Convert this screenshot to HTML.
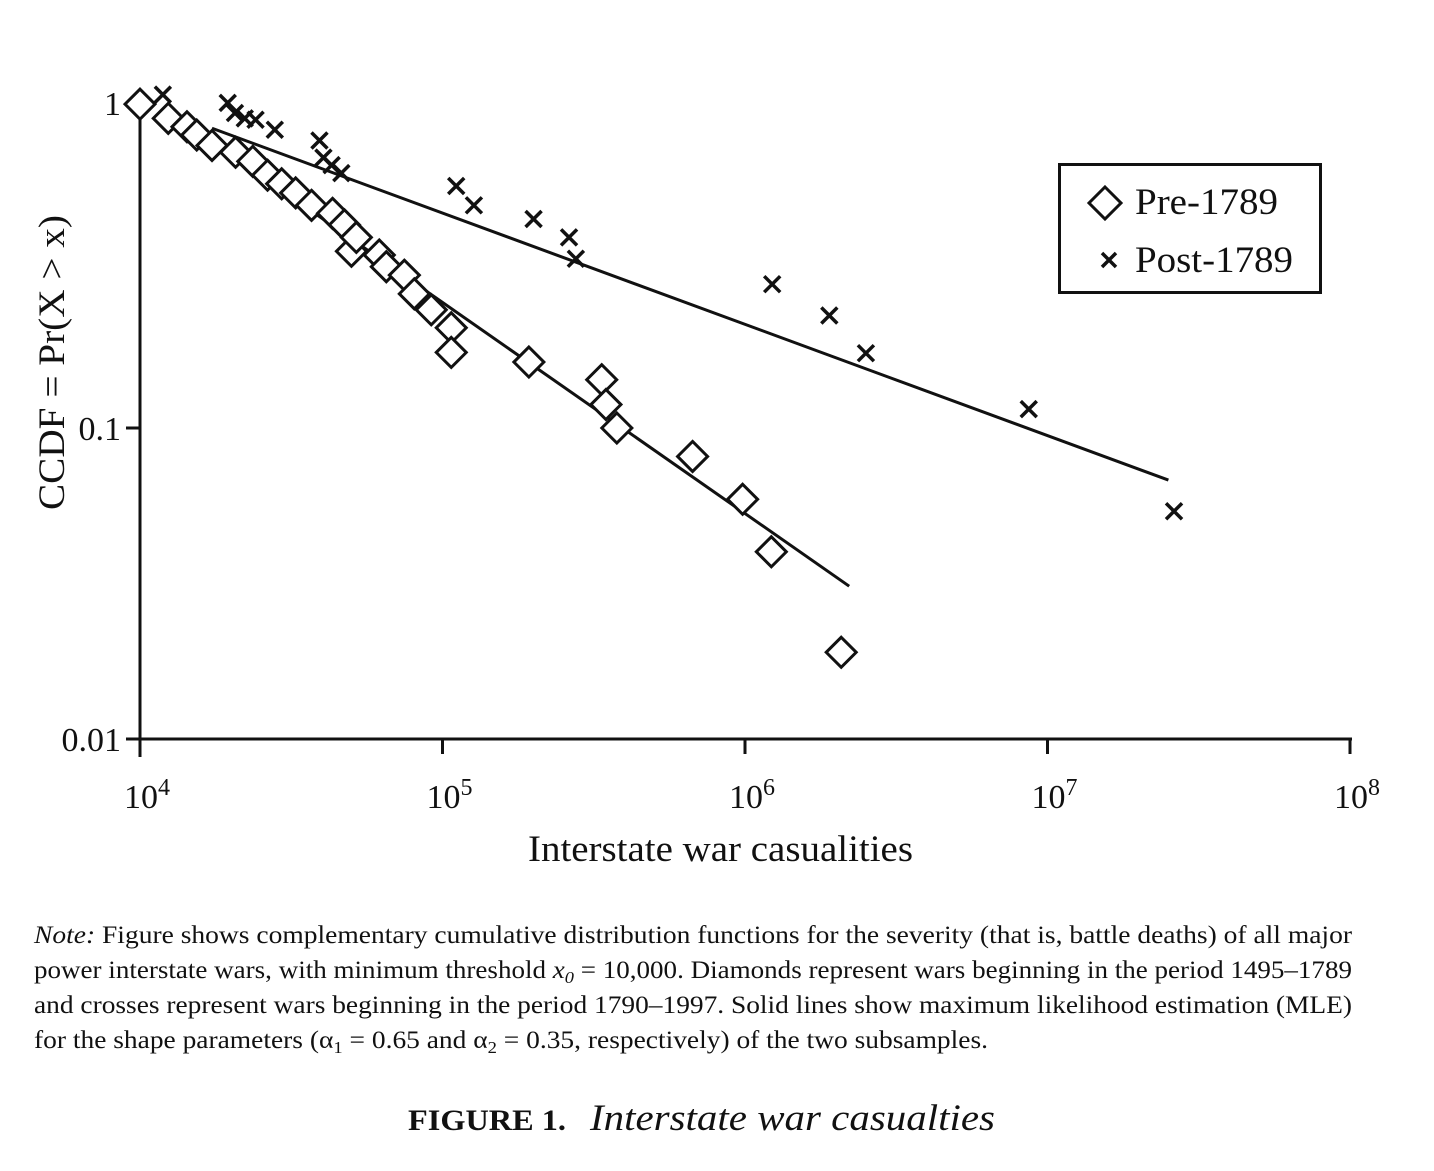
<!DOCTYPE html>
<html><head><meta charset="utf-8"><style>
body{margin:0;background:#fff;}
svg text{font-family:"Liberation Serif",serif;fill:#111;}
</style></head><body>
<svg id="chart" width="1434" height="1166" viewBox="0 0 1434 1166" xmlns="http://www.w3.org/2000/svg">
<g id="axes"></g>
<g id="fits"></g>
<g id="marks"></g>
<g>
<rect x="1059.5" y="164.5" width="261" height="128" fill="#fff" stroke="#111" stroke-width="3"/>
<path d="M1105,187 L1121,203 L1105,219 L1089,203 Z" fill="none" stroke="#111" stroke-width="3"/>
<text x="1135" y="214" font-size="37" textLength="143" lengthAdjust="spacingAndGlyphs">Pre-1789</text>
<path d="M1102,253 L1116,267 M1116,253 L1102,267" stroke="#111" stroke-width="3.5"/>
<text x="1135" y="272" font-size="37" textLength="158" lengthAdjust="spacingAndGlyphs">Post-1789</text>
</g>
<text x="528" y="861" font-size="37" textLength="385" lengthAdjust="spacingAndGlyphs">Interstate war casualities</text>
<text transform="translate(64,510) rotate(-90)" font-size="37" textLength="295" lengthAdjust="spacingAndGlyphs">CCDF = Pr(X &gt; x)</text>
<text x="34" y="943" font-size="25" textLength="1318" lengthAdjust="spacingAndGlyphs"><tspan font-style="italic">Note:</tspan> Figure shows complementary cumulative distribution functions for the severity (that is, battle deaths) of all major</text>
<text x="34" y="978" font-size="25" textLength="1318" lengthAdjust="spacingAndGlyphs">power interstate wars, with minimum threshold <tspan font-style="italic">x</tspan><tspan font-style="italic" font-size="17" dy="5">0</tspan><tspan dy="-5"> = 10,000. Diamonds represent wars beginning in the period 1495–1789</tspan></text>
<text x="34" y="1013" font-size="25" textLength="1318" lengthAdjust="spacingAndGlyphs">and crosses represent wars beginning in the period 1790–1997. Solid lines show maximum likelihood estimation (MLE)</text>
<text x="34" y="1048" font-size="25" textLength="954" lengthAdjust="spacingAndGlyphs">for the shape parameters (α<tspan font-size="17" dy="5">1</tspan><tspan dy="-5"> = 0.65 and α</tspan><tspan font-size="17" dy="5">2</tspan><tspan dy="-5"> = 0.35, respectively) of the two subsamples.</tspan></text>
<text x="408" y="1130" font-size="30" font-weight="bold" textLength="158" lengthAdjust="spacingAndGlyphs">FIGURE 1.</text>
<text x="590" y="1130" font-size="37" font-style="italic" textLength="405" lengthAdjust="spacingAndGlyphs">Interstate war casualties</text>
</svg>
<script>
const preX=[10000,12400,14300,15400,17300,20700,23600,26400,29400,32700,36900,43300,47400,50000,51900,61800,65200,74800,80700,91800,106900,106900,193000,336000,347000,377000,671000,982000,1222000,2080000];
const preY=[1.1,0.99,0.93,0.875,0.81,0.77,0.72,0.65,0.61,0.57,0.52,0.49,0.45,0.37,0.41,0.36,0.33,0.31,0.27,0.24,0.21,0.175,0.163,0.143,0.119,0.10,0.081,0.059,0.040,0.019];
const postX=[11900,19500,20600,22200,24100,27900,39200,40400,43000,46300,111000,127000,200000,262000,276000,1230000,1900000,2510000,8670000,26200000];
const postY=[1.18,1.11,1.03,0.99,0.98,0.91,0.84,0.74,0.70,0.66,0.60,0.52,0.47,0.41,0.35,0.29,0.23,0.174,0.115,0.054];
const preFitX=[15200,2210000], preFitY=[0.91,0.031];
const postFitX=[17300,25100000], postFitY=[0.92,0.068];
const xTicks=[4,5,6,7,8];
const yTicks=[1,0.1,0.01], yTickLabels=["1","0.1","0.01"];

const NS="http://www.w3.org/2000/svg";
const X=v=>140+(Math.log10(v)-4)*302.5;
const Y=v=>117-Math.log10(v)*311;
function mk(tag,attrs,parent){const e=document.createElementNS(NS,tag);for(const k in attrs)e.setAttribute(k,attrs[k]);parent.appendChild(e);return e;}
const axes=document.getElementById('axes'),fits=document.getElementById('fits'),marks=document.getElementById('marks');
let a=mk('line',{x1:140,y1:117,x2:140,y2:Y(0.01),stroke:'#111','stroke-width':3},axes);


a=mk('line',{x1:126,y1:Y(0.01),x2:1352,y2:Y(0.01),stroke:'#111','stroke-width':3},axes);


xTicks.forEach(p=>{
 const x=X(Math.pow(10,p));
 const t=mk('line',{x1:x,y1:Y(0.01),x2:x,y2:Y(0.01)+(p==4?18:15),stroke:'#111','stroke-width':3},axes);
 
 
 const tx=mk('text',{x:x-16,y:808,'font-size':34},axes);
 
 
 tx.innerHTML='10<tspan font-size="24" dy="-13">'+p+'</tspan>';
});
yTicks.forEach((v,i)=>{
 const y=i==0?103:Y(v);
 if(i>0){const t=mk('line',{x1:126,y1:y,x2:140,y2:y,stroke:'#111','stroke-width':3},axes);
 
 }
 const tx=mk('text',{x:121,y:y+12,'font-size':34,'text-anchor':'end'},axes);
 
 
 tx.textContent=yTickLabels[i];
});
function fit(xs,ys,name){const l=mk('line',{x1:X(xs[0]),y1:Y(ys[0]),x2:X(xs[1]),y2:Y(ys[1]),stroke:'#111','stroke-width':3},fits);
 
 }
fit(preFitX,preFitY,'pre-1789-fit-line');
fit(postFitX,postFitY,'post-1789-fit-line');
preX.forEach((v,i)=>{const x=X(v),y=Y(preY[i]),s=15;
 const d=mk('path',{d:`M${x},${y-s} L${x+s},${y} L${x},${y+s} L${x-s},${y} Z`,fill:'#fff',stroke:'#111','stroke-width':3},marks);
 
 });
postX.forEach((v,i)=>{const x=X(v),y=Y(postY[i]),s=8;
 const c=mk('path',{d:`M${x-s},${y-s} L${x+s},${y+s} M${x+s},${y-s} L${x-s},${y+s}`,stroke:'#111','stroke-width':3.5},marks);
 
 });
</script>
</body></html>
